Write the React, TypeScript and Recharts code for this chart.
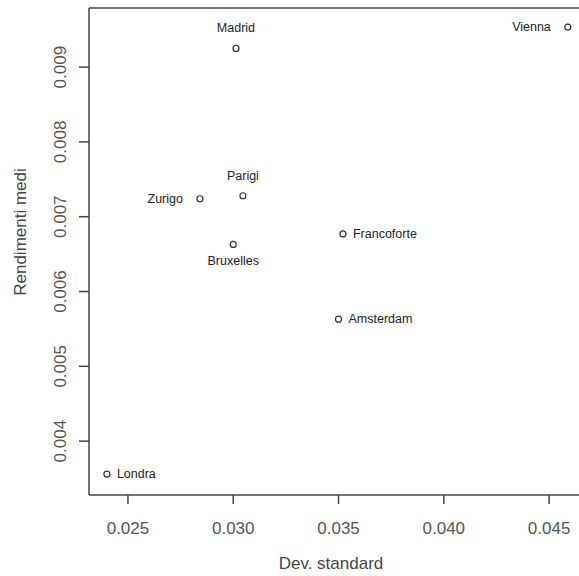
import React from "react";
import {
  ReferenceLine,
  Scatter,
  ScatterChart,
  XAxis,
  YAxis,
} from "recharts";

const cities = ["Madrid", "Vienna", "Parigi", "Zurigo", "Bruxelles", "Francoforte", "Amsterdam", "Londra"];
const devStandard = [0.03013, 0.04589, 0.03046, 0.02842, 0.03, 0.03521, 0.035, 0.024];
const rendimentiMedi = [0.00925, 0.009535, 0.00728, 0.00724, 0.00663, 0.00677, 0.00563, 0.00356];

const xTicks = [0.025, 0.03, 0.035, 0.04, 0.045];
const yTicks = [0.004, 0.005, 0.006, 0.007, 0.008, 0.009];

const X_DOMAIN: [number, number] = [0.02315, 0.04642];
const Y_DOMAIN: [number, number] = [0.00328, 0.00979];

// where each label sits relative to its point (like R's text(pos=...))
const labelSide: Record<string, "top" | "bottom" | "left" | "right"> = {
  Madrid: "top",
  Vienna: "left",
  Parigi: "top",
  Zurigo: "left",
  Bruxelles: "bottom",
  Francoforte: "right",
  Amsterdam: "right",
  Londra: "right",
};

type Point = { city: string; x: number; y: number };

const points: Point[] = cities.map((city, i) => ({
  city,
  x: devStandard[i],
  y: rendimentiMedi[i],
}));

const FONT = "'Liberation Sans', Arial, sans-serif";

function CityPoint(props: any) {
  const { cx, cy, payload } = props;
  if (cx == null || cy == null) return null;
  const side = labelSide[payload.city];
  let tx = cx;
  let ty = cy;
  let anchor: "start" | "middle" | "end" = "middle";
  if (side === "top") ty = cy - 20;
  if (side === "bottom") ty = cy + 17;
  if (side === "left") {
    tx = cx - 17;
    anchor = "end";
  }
  if (side === "right") {
    tx = cx + 10;
    anchor = "start";
  }
  return (
    <g>
      <circle cx={cx} cy={cy} r={3} fill="#fff" stroke="#333" strokeWidth={1.2} />
      <text
        x={tx}
        y={ty}
        textAnchor={anchor}
        dominantBaseline="central"
        fontSize={12.5}
        fontFamily={FONT}
        fill="#222"
      >
        {payload.city}
      </text>
    </g>
  );
}

function YTick(props: any) {
  const { y, payload } = props;
  return (
    <text
      x={61}
      y={y}
      transform={`rotate(-90, 61, ${y})`}
      textAnchor="middle"
      dominantBaseline="central"
      fontSize={17}
      fontFamily={FONT}
      fill="#555"
    >
      {payload.value.toFixed(3)}
    </text>
  );
}

function XTick(props: any) {
  const { x, payload } = props;
  return (
    <text
      x={x}
      y={528}
      textAnchor="middle"
      dominantBaseline="central"
      fontSize={17}
      fontFamily={FONT}
      fill="#555"
    >
      {payload.value.toFixed(3)}
    </text>
  );
}

export default function App() {
  return (
    <div style={{ position: "absolute", left: 0, top: 0, width: 579, height: 576, background: "#fff" }}>
      <ScatterChart width={579} height={576} margin={{ top: 8, right: 0, bottom: 0, left: 0 }}>
        <XAxis
          type="number"
          dataKey="x"
          domain={X_DOMAIN}
          ticks={xTicks}
          allowDataOverflow
          height={81}
          stroke="#444"
          strokeWidth={1.5}
          tickSize={9}
          tick={<XTick />}
          label={{
            content: () => (
              <text
                x={331}
                y={563}
                textAnchor="middle"
                dominantBaseline="central"
                fontSize={17}
                fontFamily={FONT}
                fill="#444"
              >
                Dev. standard
              </text>
            ),
          }}
        />
        <YAxis
          type="number"
          dataKey="y"
          domain={Y_DOMAIN}
          ticks={yTicks}
          allowDataOverflow
          width={89}
          stroke="#444"
          strokeWidth={1.5}
          tickSize={10}
          tick={<YTick />}
          label={{
            content: () => (
              <text
                x={20}
                y={232}
                transform="rotate(-90, 20, 232)"
                textAnchor="middle"
                dominantBaseline="central"
                fontSize={17}
                fontFamily={FONT}
                fill="#444"
              >
                Rendimenti medi
              </text>
            ),
          }}
        />
        <ReferenceLine y={Y_DOMAIN[1]} stroke="#444" strokeWidth={1.5} />
        <Scatter data={points} shape={<CityPoint />} isAnimationActive={false} />
      </ScatterChart>
    </div>
  );
}
